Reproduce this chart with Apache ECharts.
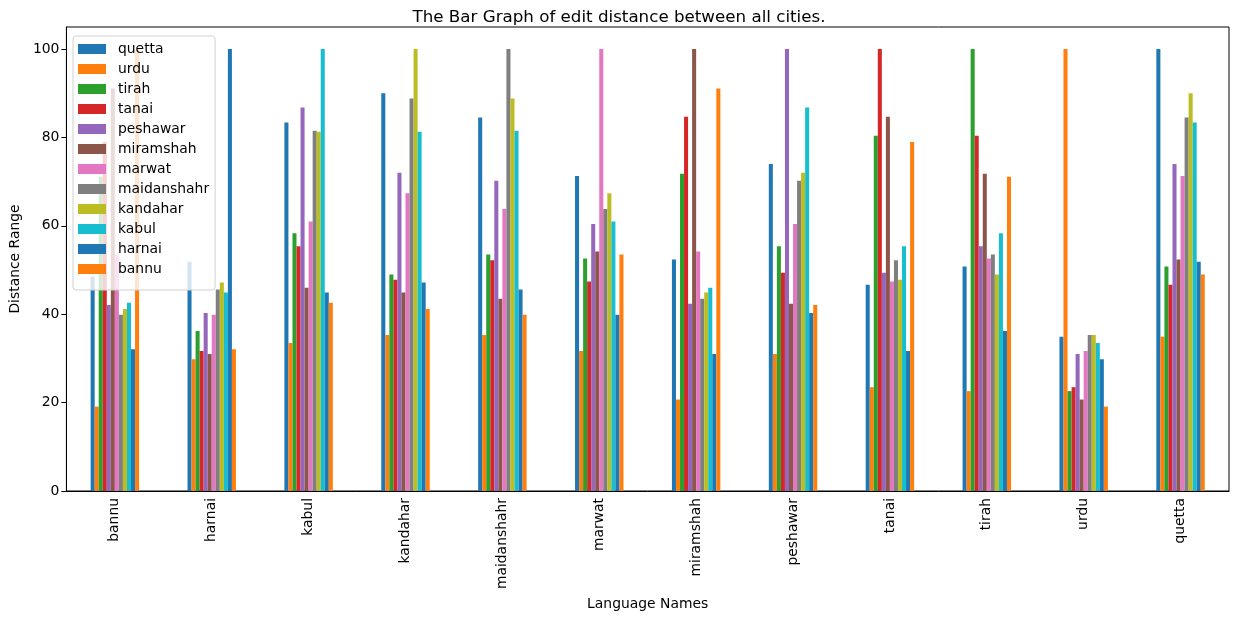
<!DOCTYPE html>
<html lang="en">
<head>
    <meta charset="UTF-8">
    <title>edit distance</title>
    <script src="https://cdn.jsdelivr.net/npm/echarts@6/dist/echarts.min.js"></script>
    <style type="text/css">
        html, body {
            margin: 0;
            padding: 0;
            background: #fff;
        }
        #main {
            width: 1238px;
            height: 622px;
        }
    </style>
</head>
<body>
<div id="main"></div>
<script>
    // language names on the x axis
    var cities = ['bannu', 'harnai', 'kabul', 'kandahar', 'maidanshahr', 'marwat',
        'miramshah', 'peshawar', 'tanai', 'tirah', 'urdu', 'quetta'];

    // one series per city (same order as cities)
    var quetta      = [48.5, 51.9, 83.4, 90.0, 84.5, 71.3, 52.4, 74.0, 46.7, 50.8, 34.9, 100];
    var urdu        = [19.1, 29.8, 33.5, 35.3, 35.3, 31.7, 20.7, 31.0, 23.5, 22.6, 100, 34.9];
    var tirah       = [71.1, 36.2, 58.3, 49.0, 53.5, 52.6, 71.8, 55.4, 80.4, 100, 22.6, 50.8];
    var tanai       = [79.0, 31.7, 55.4, 47.8, 52.2, 47.4, 84.7, 49.4, 100, 80.4, 23.5, 46.7];
    var peshawar    = [42.1, 40.3, 86.8, 72.0, 70.2, 60.4, 42.4, 100, 49.4, 55.4, 31.0, 74.0];
    var miramshah   = [91.1, 31.0, 46.0, 44.9, 43.5, 54.2, 100, 42.4, 84.7, 71.8, 20.7, 52.4];
    var marwat      = [53.5, 39.9, 61.0, 67.4, 63.8, 100, 54.2, 60.4, 47.4, 52.6, 31.7, 71.3];
    var maidanshahr = [39.9, 45.6, 81.5, 88.8, 100, 63.8, 43.5, 70.2, 52.2, 53.5, 35.3, 84.5];
    var kandahar    = [41.2, 47.2, 81.3, 100, 88.8, 67.4, 44.9, 72.0, 47.8, 49.0, 35.3, 90.0];
    var kabul       = [42.6, 44.9, 100, 81.3, 81.5, 61.0, 46.0, 86.8, 55.4, 58.3, 33.5, 83.4];
    var harnai      = [32.1, 100, 44.9, 47.2, 45.6, 39.9, 31.0, 40.3, 31.7, 36.2, 29.8, 51.9];
    var bannu       = [100, 32.1, 42.6, 41.2, 39.9, 53.5, 91.1, 42.1, 79.0, 71.1, 19.1, 49.0];

    var seriesNames = ['quetta', 'urdu', 'tirah', 'tanai', 'peshawar', 'miramshah',
        'marwat', 'maidanshahr', 'kandahar', 'kabul', 'harnai', 'bannu'];
    var seriesData = [quetta, urdu, tirah, tanai, peshawar, miramshah,
        marwat, maidanshahr, kandahar, kabul, harnai, bannu];

    // matplotlib tab10 cycle
    var colors = ['#1f77b4', '#ff7f0e', '#2ca02c', '#d62728', '#9467bd', '#8c564b',
        '#e377c2', '#7f7f7f', '#bcbd22', '#17becf', '#1f77b4', '#ff7f0e'];

    var font = 'DejaVu Sans';
    var fs = 13.9;
    var myChart = echarts.init(document.getElementById('main'), null, {renderer: 'canvas'});

    var series = seriesNames.map(function (name, i) {
        return {
            name: name,
            type: 'bar',
            data: seriesData[i],
            barGap: '0%',
            barCategoryGap: '50%',
            itemStyle: {color: colors[i]},
            emphasis: {disabled: true}
        };
    });

    var option = {
        animation: false,
        color: colors,
        textStyle: {fontFamily: font},
        title: {
            text: 'The Bar Graph of edit distance between all cities.',
            left: 'center',
            top: 4,
            textStyle: {fontFamily: font, fontSize: 16.7, fontWeight: 'normal', color: '#000'}
        },
        legend: {
            orient: 'vertical',
            left: 73,
            top: 36,
            padding: [6, 6, 14, 5],
            itemWidth: 28,
            itemHeight: 10,
            itemGap: 6,
            icon: 'rect',
            backgroundColor: 'rgba(255,255,255,0.8)',
            borderColor: '#d0d0d0',
            borderWidth: 1,
            borderRadius: 3,
            selectedMode: false,
            textStyle: {fontFamily: font, fontSize: fs, lineHeight: 14, color: '#000', padding: [0, 0, 0, 7]},
            data: seriesNames
        },
        grid: {
            left: 64,
            right: 9,
            top: 27,
            bottom: 131,
            show: true,
            borderColor: '#000',
            borderWidth: 1,
            containLabel: false
        },
        xAxis: {
            type: 'category',
            data: cities,
            name: 'Language Names',
            nameLocation: 'middle',
            nameGap: 106,
            nameTextStyle: {fontFamily: font, fontSize: fs, color: '#000'},
            axisLine: {lineStyle: {color: '#000'}},
            axisTick: {alignWithLabel: true, length: 5, lineStyle: {color: '#000'}},
            axisLabel: {rotate: 90, margin: 7, fontFamily: font, fontSize: fs, color: '#000'},
            splitLine: {show: false}
        },
        yAxis: {
            type: 'value',
            min: 0,
            max: 105,
            interval: 20,
            name: 'Distance Range',
            nameLocation: 'middle',
            nameGap: 40,
            nameTextStyle: {fontFamily: font, fontSize: fs, color: '#000'},
            axisLine: {show: true, lineStyle: {color: '#000'}},
            axisTick: {show: true, length: 5, lineStyle: {color: '#000'}},
            axisLabel: {showMaxLabel: false, margin: 7, fontFamily: font, fontSize: fs, color: '#000'},
            splitLine: {show: false}
        },
        series: series
    };
    myChart.setOption(option);
</script>
</body>
</html>
